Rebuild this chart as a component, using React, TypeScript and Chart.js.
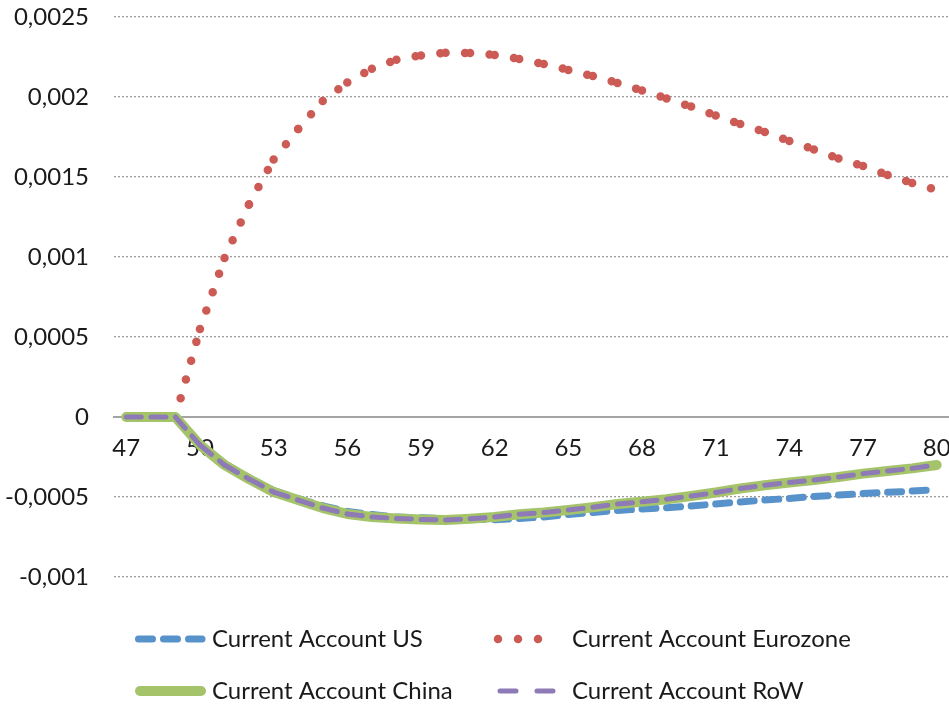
import React, { useEffect, useRef } from "react";
import { Chart, registerables } from "chart.js";

Chart.register(...registerables);

// ---------- data ----------
const CATEGORIES = [
  "47", "48", "49", "50", "51", "52", "53", "54", "55", "56", "57", "58",
  "59", "60", "61", "62", "63", "64", "65", "66", "67", "68", "69", "70",
  "71", "72", "73", "74", "75", "76", "77", "78", "79", "80",
];
const X_TICK_LABELS = ["47", "50", "53", "56", "59", "62", "65", "68", "71", "74", "77", "80"];
const Y_TICK_VALUES = [-0.001, -0.0005, 0, 0.0005, 0.001, 0.0015, 0.002, 0.0025];
const Y_TICK_LABELS = ["-0,001", "-0,0005", "0", "0,0005", "0,001", "0,0015", "0,002", "0,0025"];

const SERIES_NAMES = [
  "Current Account US",
  "Current Account Eurozone",
  "Current Account China",
  "Current Account RoW",
];

const US = [
  0, 0, 0, -0.00017, -0.00029, -0.00038, -0.00046, -0.00051, -0.000555, -0.00059,
  -0.00061, -0.000625, -0.00063, -0.000635, -0.000638, -0.000642, -0.000634, -0.000625,
  -0.000609, -0.000597, -0.000584, -0.000575, -0.000567, -0.000556, -0.000544, -0.000531,
  -0.000519, -0.000509, -0.000497, -0.000488, -0.000478, -0.000471, -0.000463, -0.000453,
];
const EUROZONE = [
  0, 0, 0, 0.00055, 0.000994, 0.00133, 0.00161, 0.0018, 0.001975, 0.00209,
  0.002177, 0.002233, 0.00226, 0.002277, 0.002275, 0.002263, 0.002238, 0.002206,
  0.002169, 0.002131, 0.002088, 0.002041, 0.00199, 0.00194, 0.001884, 0.001831,
  0.001781, 0.001725, 0.001672, 0.001616, 0.001569, 0.001513, 0.001463, 0.00142,
];
const CHINA = [
  0, 0, 0, -0.000175, -0.0003, -0.000388, -0.000469, -0.000519, -0.000569, -0.000606,
  -0.000625, -0.000634, -0.00064, -0.000644, -0.000636, -0.000625, -0.000608, -0.000597,
  -0.000581, -0.000564, -0.000544, -0.00053, -0.000514, -0.000494, -0.000472, -0.000447,
  -0.000427, -0.000409, -0.000394, -0.000375, -0.000354, -0.000337, -0.000321, -0.0003,
];
const ROW = [
  0, 0, 0, -0.000175, -0.0003, -0.000388, -0.000469, -0.000519, -0.000569, -0.000606,
  -0.000625, -0.000634, -0.00064, -0.000644, -0.000636, -0.000625, -0.000608, -0.000597,
  -0.000581, -0.000564, -0.000544, -0.00053, -0.000514, -0.000494, -0.000472, -0.000447,
  -0.000427, -0.000409, -0.000394, -0.000375, -0.000354, -0.000337, -0.000321, -0.0003,
];

// ---------- style ----------
const FONT_FAMILY = "Lato, 'Open Sans', sans-serif";
const FONT_SIZE = 24;
const TEXT_COLOR = "#1a1a1a";
const BLUE = "#5892CA";
const RED = "#CC5B55";
const GREEN = "#A5C46A";
const PURPLE = "#8D7AB6";

const US_DASH = [14, 11];
const EU_DASH = [0, 19.5];
const ROW_DASH = [15, 10];

// restart the dash pattern at every data segment (offset by whole cycles so the
// pattern is unchanged, but each segment is stroked on its own)
const perSegment = (dash: number[]) => {
  const cycle = dash.reduce((a, b) => a + b, 0);
  return { borderDashOffset: (c: any) => c.p0DataIndex * cycle };
};

const legendPlugin = {
  id: "bottomLegend",
  afterDraw(chart: any) {
    const ctx = chart.ctx as CanvasRenderingContext2D;
    const ds = chart.data.datasets;
    const items = [
      { i: 0, x0: 138.5, x1: 202, y: 639, tx: 212, dash: US_DASH },
      { i: 1, x0: 498, x1: 558, y: 639, tx: 572, dash: [0, 20] },
      { i: 2, x0: 140, x1: 201, y: 691, tx: 212, dash: [] as number[] },
      { i: 3, x0: 500, x1: 553, y: 691, tx: 572, dash: [16, 21] },
    ];
    ctx.save();
    for (const it of items) {
      const d = ds[it.i];
      ctx.beginPath();
      ctx.setLineDash(it.dash);
      ctx.lineCap = "round";
      ctx.strokeStyle = d.borderColor;
      ctx.lineWidth = d.borderWidth;
      ctx.moveTo(it.x0, it.y);
      ctx.lineTo(it.x1, it.y);
      ctx.stroke();
      ctx.setLineDash([]);
      ctx.fillStyle = TEXT_COLOR;
      ctx.font = `${FONT_SIZE}px ${FONT_FAMILY}`;
      ctx.textAlign = "left";
      ctx.textBaseline = "middle";
      ctx.fillText(d.label, it.tx, it.y);
    }
    ctx.restore();
  },
};

export default function App() {
  const ref = useRef<HTMLCanvasElement | null>(null);

  useEffect(() => {
    document.body.style.margin = "0";
    const canvas = ref.current;
    if (!canvas) return;
    const chart = new Chart(canvas, {
      type: "line",
      data: {
        labels: CATEGORIES,
        datasets: [
          {
            label: SERIES_NAMES[0],
            data: US,
            borderColor: BLUE,
            backgroundColor: BLUE,
            borderWidth: 7,
            borderDash: US_DASH,
            borderCapStyle: "round",
            borderJoinStyle: "round",
            pointRadius: 0,
            tension: 0,
            order: 4,
            segment: perSegment(US_DASH),
          },
          {
            label: SERIES_NAMES[1],
            data: EUROZONE,
            borderColor: RED,
            backgroundColor: RED,
            borderWidth: 8.5,
            borderDash: EU_DASH,
            borderCapStyle: "round",
            borderJoinStyle: "round",
            pointRadius: 0,
            tension: 0,
            order: 3,
            segment: perSegment(EU_DASH),
          },
          {
            label: SERIES_NAMES[2],
            data: CHINA,
            borderColor: GREEN,
            backgroundColor: GREEN,
            borderWidth: 10,
            borderCapStyle: "round",
            borderJoinStyle: "round",
            pointRadius: 0,
            tension: 0,
            order: 2,
          },
          {
            label: SERIES_NAMES[3],
            data: ROW,
            borderColor: PURPLE,
            backgroundColor: PURPLE,
            borderWidth: 5,
            borderDash: ROW_DASH,
            borderCapStyle: "round",
            borderJoinStyle: "round",
            pointRadius: 0,
            tension: 0,
            order: 1,
            segment: perSegment(ROW_DASH),
          },
        ],
      },
      options: {
        responsive: false,
        animation: false,
        devicePixelRatio: 1,
        layout: { padding: { top: 17, bottom: 131, left: 0, right: 0 } },
        plugins: {
          legend: { display: false },
          tooltip: { enabled: false },
        },
        scales: {
          x: {
            type: "category",
            offset: true,
            position: { y: 0 },
            grid: { display: false, drawTicks: false },
            border: { display: true, color: "#A3A3A3", width: 2 },
            ticks: {
              autoSkip: false,
              maxRotation: 0,
              padding: 17,
              color: TEXT_COLOR,
              font: { family: FONT_FAMILY, size: FONT_SIZE },
              callback: function (this: any, value: any) {
                const lab = CATEGORIES[value as number];
                return X_TICK_LABELS.includes(lab) ? lab : "";
              },
            },
            afterFit: (s: any) => {
              s.paddingLeft = 0;
              s.paddingRight = 0;
            },
          },
          y: {
            type: "linear",
            min: -0.001,
            max: 0.0025,
            grid: {
              color: "#9C9C9C",
              lineWidth: 1.3,
              drawTicks: false,
            },
            border: { display: false, dash: [2, 2] },
            ticks: {
              stepSize: 0.0005,
              padding: 25,
              color: TEXT_COLOR,
              font: { family: FONT_FAMILY, size: FONT_SIZE },
              callback: (value: any) => {
                const v = Number(value);
                let best = 0;
                for (let k = 1; k < Y_TICK_VALUES.length; k++) {
                  if (Math.abs(Y_TICK_VALUES[k] - v) < Math.abs(Y_TICK_VALUES[best] - v)) best = k;
                }
                return Y_TICK_LABELS[best];
              },
            },
            afterFit: (s: any) => {
              s.width = 114;
              s.paddingTop = 0;
              s.paddingBottom = 0;
            },
          },
        },
      } as any,
      plugins: [legendPlugin],
    });
    return () => chart.destroy();
  }, []);

  return (
    <div style={{ position: "absolute", left: 0, top: 0, width: 949, height: 708 }}>
      <canvas ref={ref} width={949} height={708} style={{ display: "block" }} />
    </div>
  );
}
